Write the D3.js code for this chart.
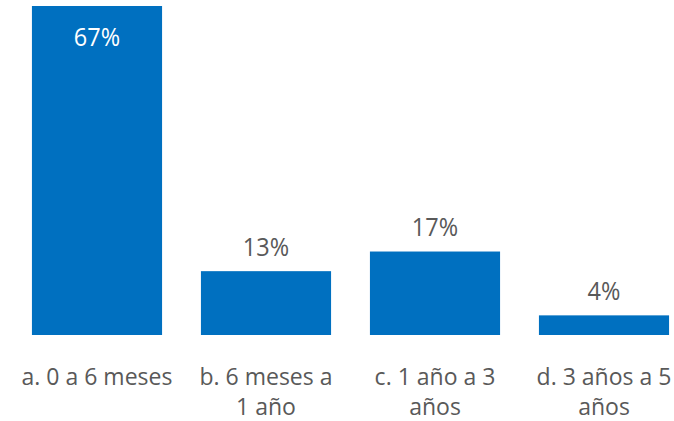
<!DOCTYPE html>
<html>
<head>
<meta charset="utf-8">
<script src="https://cdn.jsdelivr.net/npm/d3@7"></script>
<style>
  body { margin: 0; background: #fff; }
  text { font-family: "Open Sans", "Noto Sans", sans-serif; }
</style>
</head>
<body>
<div id="chart"></div>
<script>
// line breaks in the labels are where the original wraps them
var categories = ["a. 0 a 6 meses", "b. 6 meses a\n1 año", "c. 1 año a 3\naños", "d. 3 años a 5\naños"];
var values = [67, 13, 17, 4];

var W = 674, H = 421;
var baseY = 335, topY = 6;

var svg = d3.select("#chart").append("svg")
    .attr("width", W)
    .attr("height", H);

var x = d3.scaleBand()
    .domain(categories)
    .range([12.5, 688.5])
    .paddingInner(0.23)
    .paddingOuter(0.115);

var y = d3.scaleLinear()
    .domain([0, 67])
    .range([baseY, topY]);

svg.selectAll(".bar")
    .data(values)
    .enter()
    .append("rect")
    .attr("class", "bar")
    .attr("x", function(d, i) { return x(categories[i]); })
    .attr("y", function(d) { return y(d); })
    .attr("width", x.bandwidth())
    .attr("height", function(d) { return baseY - y(d); })
    .style("fill", "#0070c0");

// value labels, the tall bar gets its label inside
svg.selectAll(".val")
    .data(values)
    .enter()
    .append("text")
    .attr("class", "val")
    .attr("transform", function(d, i) {
        var cx = x(categories[i]) + x.bandwidth() / 2;
        var by = d > 50 ? y(d) + 40 : y(d) - 15.5;
        return "translate(" + cx + "," + by + ") scale(1,1.12)";
    })
    .attr("text-anchor", "middle")
    .style("font-size", "23.5px")
    .style("fill", function(d) { return d > 50 ? "#ffffff" : "#595959"; })
    .text(function(d) { return d + "%"; });

// category labels
svg.selectAll(".cat")
    .data(categories)
    .enter()
    .append("text")
    .attr("class", "cat")
    .attr("text-anchor", "middle")
    .attr("y", 385)
    .style("font-size", "23px")
    .style("fill", "#595959")
    .each(function(d) {
        var el = d3.select(this);
        var cx = x(d) + x.bandwidth() / 2;
        d.split("\n").forEach(function(s, k) {
            el.append("tspan")
                .attr("x", cx)
                .attr("dy", k === 0 ? 0 : 30)
                .text(s);
        });
    });
</script>
</body>
</html>
